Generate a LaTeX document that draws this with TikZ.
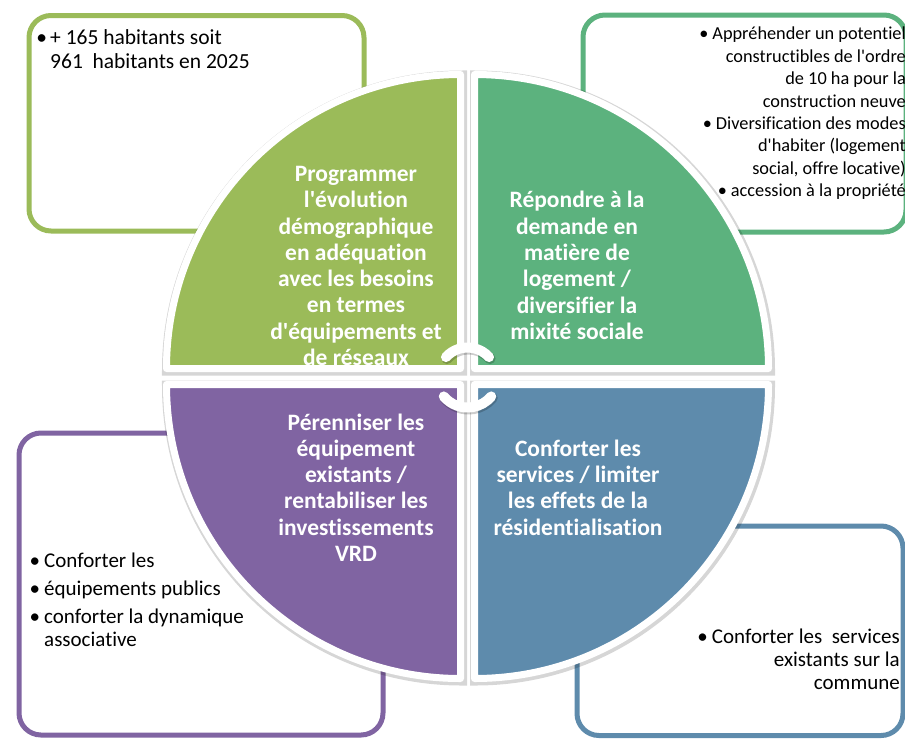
\documentclass[tikz,border=0pt]{standalone}
\usepackage{fontspec}
\newfontfamily\carlito{Carlito}[Ligatures=NoCommon]
\usetikzlibrary{arrows.meta}
\tikzset{every node/.append style={align=center}}
\definecolor{olivecolor}{RGB}{155,187,89}
\definecolor{greencolor}{RGB}{92,178,126}
\definecolor{purplecolor}{RGB}{128,100,162}
\definecolor{bluecolor}{RGB}{94,139,172}

\begin{document}
\begin{tikzpicture}[x=1pt, y=-1pt,
    infobox/.style={draw=#1, line width=5pt, rounded corners=22pt, fill=white, inner sep=0pt},
    quarter/.style={fill=#1, draw=white, line width=7pt, line join=round,
        preaction={draw=black, draw opacity=0.16, line width=11pt, transform canvas={xshift=1pt, yshift=-1.5pt}}},
    title/.style={text=white, inner sep=0pt, font=\carlito\bfseries\fontsize{23.5}{26.3}\selectfont},
    note/.style={inner sep=0pt, font=\carlito\fontsize{21}{23}\selectfont},
    turn/.style={draw=white, line width=10pt, line cap=round,
        preaction={draw=black, draw opacity=0.2, line width=11pt, line cap=round, transform canvas={xshift=1pt, yshift=-1.5pt}}},
]
    \useasboundingbox (0,0) rectangle (905,740);

    % Side boxes
    \node[infobox=olivecolor, minimum width=335pt, minimum height=215.5pt] (demobox) at (196.5,123.25) {};
    \node[infobox=greencolor, minimum width=323pt, minimum height=217pt] (habitatbox) at (744.5,123.5) {};
    \node[infobox=purplecolor, minimum width=364pt, minimum height=302pt] (equipbox) at (201,584) {};
    \node[infobox=bluecolor, minimum width=326pt, minimum height=209.5pt] (servicebox) at (740,630.75) {};

    % Box texts
    \node[note, font=\carlito\fontsize{21.5}{24}\selectfont, anchor=north west, align=left] (demotext) at (50,29)
        {\llap{•\hspace{3pt}}+ 165 habitants soit\\961~ habitants en 2025};
    \node[note, font=\carlito\fontsize{18.3}{22.4}\selectfont, anchor=north east, align=right] (habitattext) at (906,27)
        {•\hspace{4pt}Appréhender un potentiel\\constructibles de l'ordre\\de 10 ha pour la\\construction neuve\\
         •\hspace{4pt}Diversification des modes\\d'habiter (logement\\social, offre locative)\\
         •\hspace{4pt}accession à la propriété};
    \node[note, anchor=north west, align=left] (equiptext) at (44,553)
        {\llap{•\hspace{4pt}}Conforter les\\[5pt]\llap{•\hspace{4pt}}équipements publics\\[5pt]
         \llap{•\hspace{4pt}}conforter la dynamique\\associative};
    \node[note, anchor=north east, align=right] (servicetext) at (900,629)
        {•\hspace{4pt}Conforter les~ services\\existants sur la\\commune};

    % Quarters of the wheel
    \path[quarter=olivecolor] (460.5,368.5) -- ++(-294,0) arc[start angle=180, end angle=270, radius=294] -- cycle;
    \path[quarter=greencolor] (474.5,368.5) -- ++(0,-294) arc[start angle=270, end angle=360, radius=294] -- cycle;
    \path[quarter=purplecolor] (460.5,384.5) -- ++(-294,0) arc[start angle=180, end angle=90, radius=294] -- cycle;
    \path[quarter=bluecolor] (474.5,384.5) -- ++(294,0) arc[start angle=0, end angle=90, radius=294] -- cycle;

    % Titles
    \node[title] (demo) at (356,266) {Programmer\\l'évolution\\démographique\\en adéquation\\avec les besoins\\en termes\\d'équipements et\\de réseaux};
    \node[title] (habitat) at (577,265.5) {Répondre à la\\demande en\\matière de\\logement /\\diversifier la\\mixité sociale};
    \node[title] (equip) at (356,487.5) {Pérenniser les\\équipement\\existants /\\rentabiliser les\\investissements\\VRD};
    \node[title] (service) at (578,487.5) {Conforter les\\services / limiter\\les effets de la\\résidentialisation};

    % Turning arrows
    \coordinate (hub) at (467.5,376.5);
    \draw[turn] (hub) ++(222:29) arc[start angle=222, end angle=318, radius=29];
    \draw[turn] (hub) ++(140:31) arc[start angle=140, end angle=40, radius=31];

\end{tikzpicture}
\end{document}
